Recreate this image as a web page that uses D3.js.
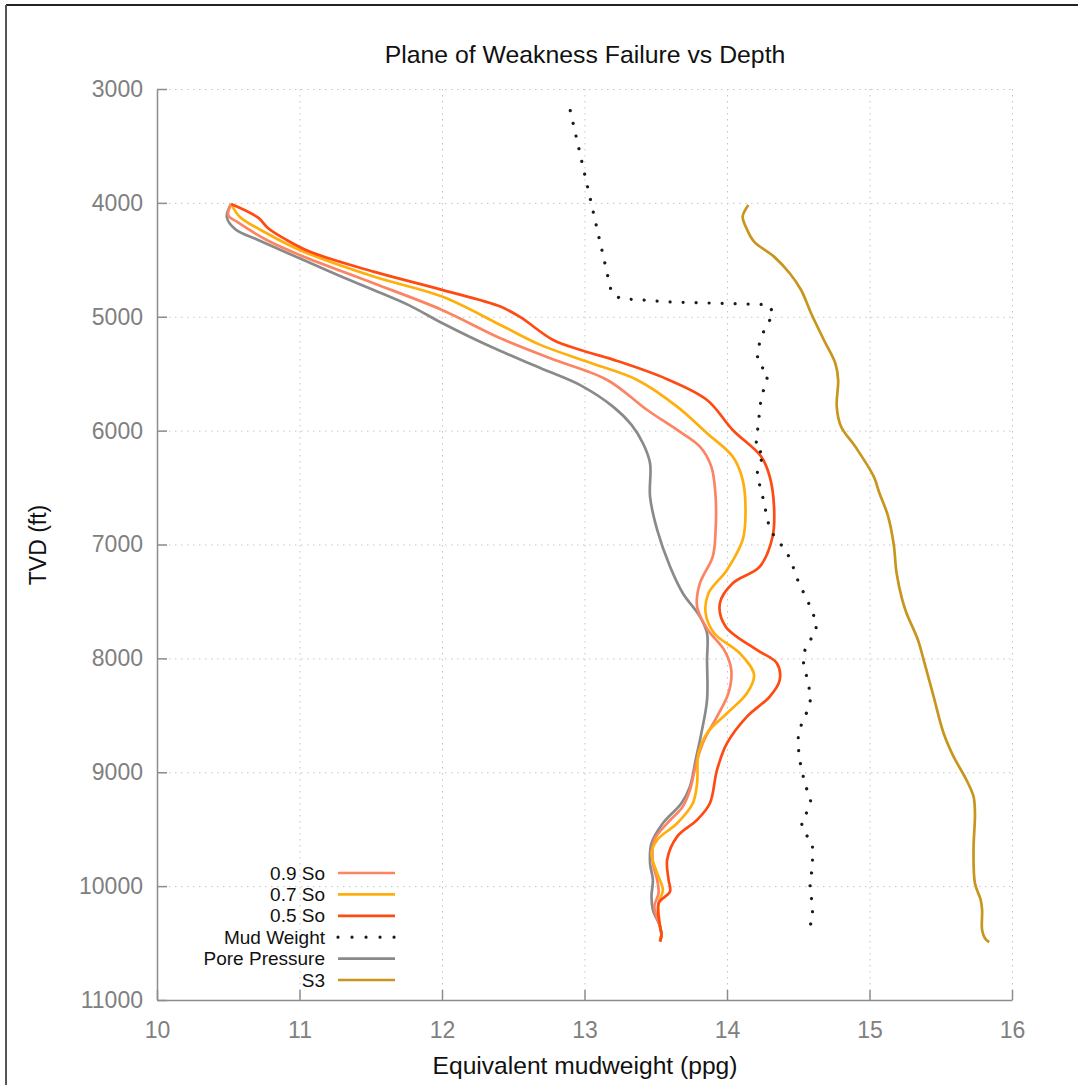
<!DOCTYPE html>
<html>
<head>
<meta charset="utf-8">
<script src="https://cdn.jsdelivr.net/npm/d3@7"></script>
<style>
  html, body { margin: 0; padding: 0; background: #fff; }
  svg { display: block; font-family: "Liberation Sans", Arial, Helvetica, sans-serif; }
</style>
</head>
<body>
<svg id="chart" width="1078" height="1085"></svg>
<script>
// Depth (ft TVD) and equivalent mudweight (ppg) pairs for each curve
const so09 = [[4010,10.52],[4110,10.50],[4165,10.56],[4326,10.77],[4457,11.0],[4706,11.52],[4940,12.0],[5189,12.41],[5365,12.76],[5555,13.16],[5819,13.44],[5994,13.65],[6140,13.81],[6316,13.89],[6580,13.92],[6872,13.92],[7106,13.90],[7340,13.81],[7545,13.79],[7740,13.86],[7926,13.98],[8101,14.03],[8306,14.01],[8511,13.93],[8716,13.84],[8892,13.79],[9155,13.74],[9300,13.69],[9448,13.58],[9594,13.49],[9798,13.48],[9945,13.51],[10062,13.52],[10179,13.49],[10354,13.53],[10427,13.54],[10486,13.53]];

const so07 = [[4010,10.52],[4121,10.58],[4267,10.77],[4413,11.0],[4647,11.52],[4823,12.0],[5072,12.41],[5247,12.69],[5408,13.05],[5555,13.37],[5789,13.65],[6023,13.86],[6228,14.04],[6433,14.11],[6726,14.13],[6960,14.11],[7223,14.0],[7428,13.87],[7603,13.85],[7779,13.91],[7955,14.09],[8145,14.19],[8306,14.14],[8482,14.0],[8657,13.86],[8833,13.80],[9097,13.79],[9272,13.76],[9448,13.65],[9594,13.51],[9711,13.47],[9887,13.51],[10033,13.55],[10150,13.52],[10354,13.53],[10427,13.54],[10486,13.53]];

const so05 = [[4010,10.52],[4130,10.71],[4223,10.78],[4326,10.91],[4428,11.07],[4604,11.52],[4764,12.0],[4911,12.41],[5004,12.55],[5204,12.78],[5298,12.99],[5388,13.23],[5548,13.58],[5731,13.86],[5994,14.04],[6228,14.24],[6404,14.30],[6667,14.33],[6930,14.32],[7194,14.23],[7340,14.04],[7516,13.95],[7720,13.99],[7926,14.21],[8042,14.35],[8189,14.37],[8335,14.30],[8511,14.14],[8745,14.0],[8979,13.93],[9272,13.88],[9418,13.79],[9565,13.65],[9769,13.58],[9945,13.59],[10047,13.60],[10150,13.52],[10354,13.53],[10427,13.54],[10486,13.53]];

const mudWeight = [[3190,12.90],[4790,13.19],[4840,13.25],[4870,13.60],[4893,14.29],[4975,14.33],[5086,14.27],[5189,14.24],[5306,14.21],[5414,14.22],[5496,14.29],[5595,14.27],[5706,14.24],[5820,14.23],[5937,14.22],[6051,14.21],[6168,14.20],[6205,14.27],[6300,14.22],[6402,14.21],[6520,14.24],[6638,14.26],[6755,14.28],[6866,14.30],[6960,14.35],[7045,14.41],[7146,14.45],[7255,14.48],[7360,14.51],[7471,14.56],[7574,14.59],[7682,14.63],[7785,14.62],[7872,14.56],[7999,14.53],[8110,14.55],[8227,14.57],[8341,14.59],[8446,14.57],[8555,14.53],[8660,14.50],[8777,14.50],[8894,14.51],[9008,14.53],[9120,14.55],[9231,14.59],[9333,14.57],[9433,14.52],[9526,14.54],[9617,14.60],[9731,14.60],[9845,14.60],[9962,14.58],[10079,14.59],[10196,14.60],[10313,14.60],[10400,14.54]];

const porePressure = [[4010,10.52],[4125,10.49],[4232,10.55],[4326,10.71],[4486,11.0],[4640,11.28],[4765,11.52],[4900,11.77],[5055,12.0],[5262,12.34],[5450,12.69],[5600,12.97],[5789,13.20],[5950,13.33],[6111,13.41],[6286,13.46],[6580,13.46],[6872,13.51],[7194,13.60],[7428,13.69],[7633,13.81],[7779,13.86],[8013,13.86],[8365,13.86],[8657,13.82],[8892,13.78],[9126,13.74],[9272,13.68],[9448,13.55],[9624,13.47],[9798,13.46],[9945,13.48],[10091,13.47],[10208,13.48],[10354,13.53],[10427,13.54],[10486,13.53]];

const s3 = [[4018,14.15],[4121,14.11],[4232,14.14],[4340,14.19],[4472,14.33],[4618,14.44],[4765,14.52],[4969,14.59],[5204,14.68],[5408,14.76],[5555,14.78],[5789,14.77],[5964,14.80],[6140,14.90],[6404,15.03],[6550,15.07],[6750,15.13],[7000,15.17],[7250,15.19],[7486,15.23],[7603,15.26],[7838,15.34],[8013,15.38],[8335,15.45],[8657,15.52],[8862,15.59],[9067,15.68],[9213,15.73],[9360,15.74],[9681,15.73],[9974,15.74],[10120,15.78],[10208,15.79],[10384,15.79],[10457,15.81],[10492,15.84]];

const xTicks = [10, 11, 12, 13, 14, 15, 16];
const yTicks = [3000, 4000, 5000, 6000, 7000, 8000, 9000, 10000, 11000];

const seriesList = [
  { name: "0.9 So",        data: so09,         color: "#fd8462", dotted: false },
  { name: "0.7 So",        data: so07,         color: "#ffae0c", dotted: false },
  { name: "0.5 So",        data: so05,         color: "#ff4a12", dotted: false },
  { name: "Mud Weight",    data: mudWeight,    color: "#1a1a1a", dotted: true  },
  { name: "Pore Pressure", data: porePressure, color: "#8a8a8a", dotted: false },
  { name: "S3",            data: s3,           color: "#c8951d", dotted: false }
];

const svg = d3.select("#chart");
const W = 1078, H = 1085;
const plot = { left: 157, right: 1012, top: 89, bottom: 1000 };

const x = d3.scaleLinear().domain([10, 16]).range([plot.left, plot.right]);
const y = d3.scaleLinear().domain([3000, 11000]).range([plot.top, plot.bottom]);

// outer frame (top and left edges)
svg.append("line").attr("x1", 6).attr("y1", 5).attr("x2", W).attr("y2", 5)
  .attr("stroke", "#222").attr("stroke-width", 2);
svg.append("line").attr("x1", 6).attr("y1", 5).attr("x2", 6).attr("y2", H)
  .attr("stroke", "#555").attr("stroke-width", 2);

// dotted grid
const grid = svg.append("g").attr("stroke", "#c4c4c4").attr("stroke-width", 1)
  .attr("stroke-dasharray", "1.5,4.5");
grid.selectAll("line.gx").data(xTicks.slice(1)).join("line")
  .attr("x1", d => x(d) + 0.5).attr("x2", d => x(d) + 0.5)
  .attr("y1", plot.top).attr("y2", plot.bottom);
grid.selectAll("line.gy").data(yTicks.slice(0, -1)).join("line")
  .attr("x1", plot.left).attr("x2", plot.right)
  .attr("y1", d => y(d) + 0.5).attr("y2", d => y(d) + 0.5);

// axes with inward ticks
const axisColor = "#8c8c8c";
const xAxis = svg.append("g").attr("transform", `translate(0,${plot.bottom})`)
  .call(d3.axisBottom(x).tickValues(xTicks).tickFormat(d3.format("d"))
    .tickSizeInner(-10).tickSizeOuter(0).tickPadding(22));
const yAxis = svg.append("g").attr("transform", `translate(${plot.left},0)`)
  .call(d3.axisLeft(y).tickValues(yTicks).tickFormat(d3.format("d"))
    .tickSizeInner(-10).tickSizeOuter(0).tickPadding(14));
[xAxis, yAxis].forEach(a => {
  a.select(".domain").attr("stroke", axisColor).attr("stroke-width", 1.5);
  a.selectAll(".tick line").attr("stroke", axisColor).attr("stroke-width", 1.5);
  a.selectAll(".tick text").attr("fill", "#808080")
    .style("font-size", "23px").style("font-family", "'Liberation Sans', Arial, sans-serif");
});

// curves: smooth through the sampled depths
const line = d3.line()
  .x(d => x(d[1]))
  .y(d => y(d[0]))
  .curve(d3.curveCatmullRom.alpha(0.5));
const straight = d3.line().x(d => x(d[1])).y(d => y(d[0]));

const order = [4, 0, 1, 2, 5, 3];
order.forEach(i => {
  const s = seriesList[i];
  const p = svg.append("path").datum(s.data)
    .attr("fill", "none")
    .attr("stroke", s.color);
  if (s.dotted) {
    p.attr("d", straight).attr("stroke-width", 3.2)
      .attr("stroke-linecap", "round").attr("stroke-dasharray", "0.01,13");
  } else {
    p.attr("d", line).attr("stroke-width", 2.7)
      .attr("stroke-linejoin", "round");
  }
});

// legend
const legend = svg.append("g");
const legendTop = 873, legendStep = 21.4;
seriesList.forEach((s, i) => {
  const ly = legendTop + i * legendStep;
  legend.append("text")
    .attr("x", 325).attr("y", ly).attr("dy", "0.35em")
    .attr("text-anchor", "end").attr("fill", "#111")
    .style("font-size", "19px")
    .text(s.name);
  const l = legend.append("line")
    .attr("x1", 338).attr("x2", 395).attr("y1", ly).attr("y2", ly)
    .attr("stroke", s.color);
  if (s.dotted) {
    l.attr("stroke-width", 3.2).attr("stroke-linecap", "round")
      .attr("stroke-dasharray", "0.01,14");
  } else {
    l.attr("stroke-width", 2.7);
  }
});

// titles
svg.append("text").attr("x", 585).attr("y", 63).attr("text-anchor", "middle")
  .attr("fill", "#111").style("font-size", "24.8px")
  .text("Plane of Weakness Failure vs Depth");
svg.append("text").attr("x", 585).attr("y", 1074).attr("text-anchor", "middle")
  .attr("fill", "#111").style("font-size", "24.6px")
  .text("Equivalent mudweight (ppg)");
svg.append("text").attr("transform", "translate(46,545) rotate(-90)")
  .attr("text-anchor", "middle").attr("fill", "#111").style("font-size", "23px")
  .text("TVD (ft)");
</script>
</body>
</html>
